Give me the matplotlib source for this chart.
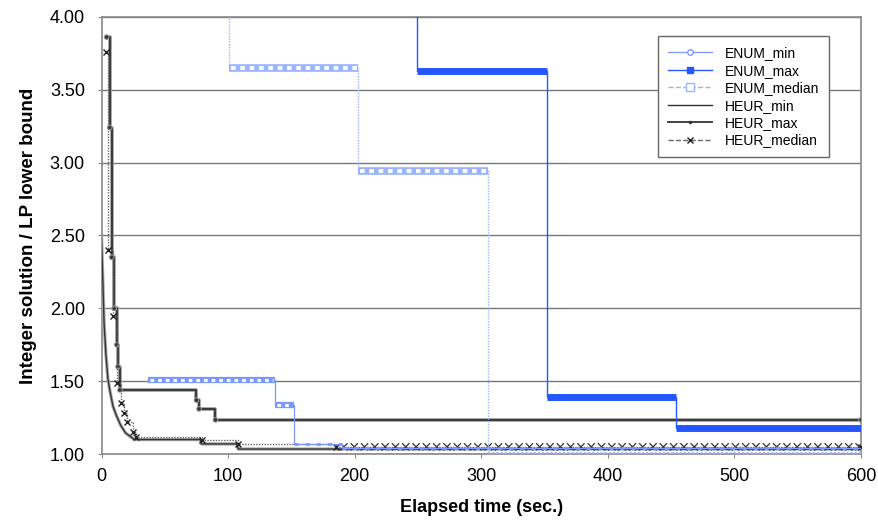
import matplotlib
matplotlib.use("Agg")
import matplotlib.pyplot as plt
import matplotlib.patheffects as pe
import numpy as np

plt.rcParams['font.family'] = ['Liberation Sans', 'DejaVu Sans']

# step series (time in sec, ratio)
enum_min_t = [37, 137, 152, 190, 600]
enum_min_v = [1.51, 1.335, 1.07, 1.04, 1.04]

enum_max_t = [249, 249, 352, 454, 600]
enum_max_v = [4.5, 3.625, 1.39, 1.18, 1.18]

enum_med_t = [101, 101, 203, 305, 600]
enum_med_v = [4.5, 3.645, 2.94, 1.01, 1.01]

heur_min_t = [0, 1, 2, 3.5, 5, 6.5, 9, 11.5, 15, 19, 26, 78, 79, 107, 108, 600]
heur_min_v = [2.48, 2.2, 1.9, 1.68, 1.52, 1.44, 1.33, 1.27, 1.2, 1.145, 1.10, 1.10, 1.07,
              1.07, 1.035, 1.035]

heur_max_t = [4, 6.5, 8, 10, 12, 13, 14.5, 75, 77, 90, 600]
heur_max_v = [3.86, 3.24, 2.35, 2.0, 1.75, 1.6, 1.44, 1.37, 1.31, 1.235, 1.235]

heur_med_t = [3.5, 5, 9, 12, 15, 17.5, 20.5, 24.5, 27, 79, 108, 185, 600]
heur_med_v = [3.76, 2.40, 1.95, 1.49, 1.35, 1.28, 1.22, 1.15, 1.12, 1.10, 1.07, 1.05, 1.05]

x_ticks = [0, 100, 200, 300, 400, 500, 600]
y_ticks = [1.0, 1.5, 2.0, 2.5, 3.0, 3.5, 4.0]

c_light = '#9bb4ff'
c_mid = '#7a98ff'
c_dark = '#2457ff'
c_black = '#333333'

fig = plt.figure(figsize=(8.79, 5.22), dpi=100)
ax = fig.add_axes([0.1155, 0.130, 0.864, 0.838])


def plateaus(t, v):
    # horizontal pieces of a step series
    if t[0] == t[1]:
        return np.array(v[1:-1]), np.array(t[1:-1]), np.array(t[2:])
    return np.array(v[:-1]), np.array(t[:-1]), np.array(t[1:])


# HEUR lines
ax.plot(heur_min_t, heur_min_v, color=c_black, lw=1.0,
        label='HEUR_min', zorder=3,
        path_effects=[pe.Stroke(linewidth=2.4, foreground='#aaaaaa'), pe.Normal()])
ax.plot(heur_max_t, heur_max_v, drawstyle='steps-post', color=c_black, lw=1.3,
        marker='.', ms=3, label='HEUR_max', zorder=3,
        path_effects=[pe.Stroke(linewidth=2.6, foreground='#999999'), pe.Normal()])
ax.plot(heur_med_t, heur_med_v, drawstyle='steps-post', color='#666666',
        lw=1.0, ls=(0, (1, 1)), marker='x', ms=5, mew=1.0, mec='#222222',
        label='HEUR_median', zorder=4)

# tail of HEUR_median drawn with little crosses along it
h = 2.3
sp = 7.3
tail_t = heur_med_t[-2:]
tail_v = heur_med_v[-2:]
ax.plot(tail_t, tail_v, color='none', lw=1, zorder=4,
        path_effects=[pe.withTickedStroke(offset=(0, -h), spacing=sp, angle=45,
                                          length=2 * h * 1.414 / sp, linewidth=0.9,
                                          foreground='#333333'),
                      pe.withTickedStroke(offset=(2 * h, -h), spacing=sp, angle=135,
                                          length=2 * h * 1.414 / sp, linewidth=0.9,
                                          foreground='#333333')])

# ENUM lines: thin steps, plateaus thickened like dense markers
ax.plot(enum_min_t, enum_min_v, drawstyle='steps-post', color=c_mid, lw=0.9,
        marker='o', ms=4, mfc='white', mec=c_mid, markevery=[], label='ENUM_min',
        zorder=5)
v, a, b = plateaus(enum_min_t, enum_min_v)
ax.hlines(v[:2], a[:2], b[:2], color=c_mid, lw=4.5, zorder=5)
ax.hlines(v[:2], a[:2] + 1.5, b[:2] - 1.5, color='white', lw=2.2,
          linestyles=(0, (1.2, 1.3)), zorder=5)
ax.hlines(v[2:], a[2:], b[2:], color=c_mid, lw=2.0, linestyles=(0, (1.5, 2.5)),
          zorder=5)

ax.plot(enum_max_t, enum_max_v, drawstyle='steps-post', color=c_dark, lw=1.0,
        marker='s', ms=5, mfc=c_dark, mec=c_dark, markevery=[], label='ENUM_max',
        zorder=6)
v, a, b = plateaus(enum_max_t, enum_max_v)
ax.hlines(v, a, b, color=c_dark, lw=5.0, zorder=6)

ax.plot(enum_med_t, enum_med_v, drawstyle='steps-post', color=c_light, lw=1.0,
        ls=(0, (1, 1)), marker='s', ms=5.5, mfc='white', mec=c_light, mew=1.4,
        markevery=[], label='ENUM_median', zorder=5)
v, a, b = plateaus(enum_med_t, enum_med_v)
ax.hlines(v[:2], a[:2], b[:2], color=c_light, lw=5.5, zorder=5)
ax.hlines(v[:2], a[:2] + 1.5, b[:2] - 1.5, color='white', lw=2.8,
          linestyles=(0, (1.2, 1.2)), zorder=5)
ax.hlines(v[2:], a[2:], b[2:], color=c_light, lw=1.5, linestyles=(0, (1, 1)),
          zorder=5)

ax.set_xlim(0, 600)
ax.set_ylim(1.0, 4.0)
ax.set_xticks(x_ticks)
ax.set_yticks(y_ticks)
ax.set_yticklabels(['%.2f' % y for y in y_ticks])
ax.tick_params(labelsize=13, length=3, color='#888888')
ax.tick_params(axis='x', pad=7)
ax.tick_params(axis='y', pad=9)
ax.grid(axis='y', color='#777777', lw=1.0)
ax.set_axisbelow(True)
for s in ax.spines.values():
    s.set_color('#888888')
    s.set_linewidth(1.2)

ax.set_xlabel('Elapsed time (sec.)', fontsize=13, fontweight='bold', labelpad=10)
ax.set_ylabel('Integer solution / LP lower bound', fontsize=13.5, fontweight='bold',
              labelpad=9)

# legend with markers shown in the samples
handles, labels = ax.get_legend_handles_labels()
order = ['ENUM_min', 'ENUM_max', 'ENUM_median', 'HEUR_min', 'HEUR_max', 'HEUR_median']
hd = {l: hh for hh, l in zip(handles, labels)}
leg_h = []
for name in order:
    src = hd[name]
    ln = plt.Line2D([], [], color=src.get_color(), lw=src.get_linewidth(),
                    ls=src.get_linestyle(), marker=src.get_marker(),
                    ms=src.get_markersize(), mfc=src.get_markerfacecolor(),
                    mec=src.get_markeredgecolor())
    leg_h.append(ln)
leg = ax.legend(leg_h, order, loc='upper right', bbox_to_anchor=(0.958, 0.955),
                fontsize=10, frameon=True, fancybox=False, edgecolor='#666666',
                framealpha=1, handlelength=3.2, labelspacing=0.25,
                borderpad=0.7, handletextpad=0.9, borderaxespad=0)
leg.get_frame().set_linewidth(1.0)

fig.savefig('out.png', dpi=100)
